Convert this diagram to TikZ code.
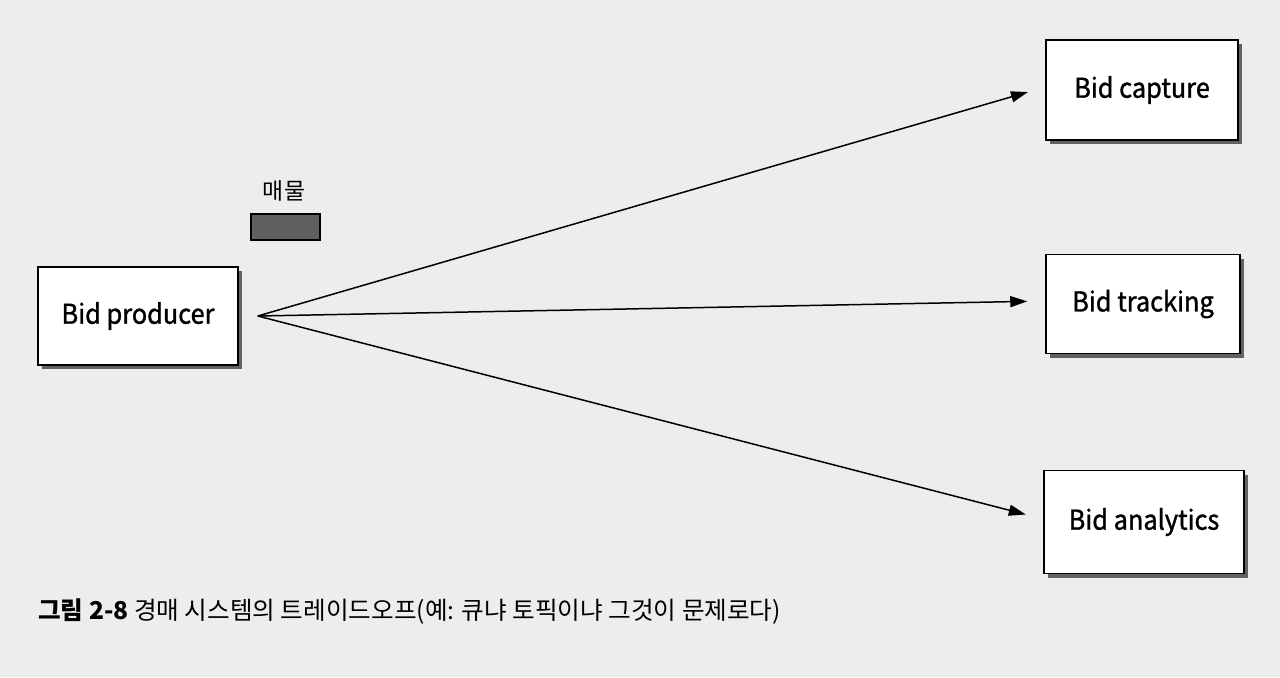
\documentclass[tikz,border=0pt]{standalone}
\usepackage{fontspec}
\setmainfont{Noto Sans CJK KR}
\newfontfamily\boxfont{Noto Sans CJK KR}[FakeBold=1.2, FakeStretch=0.93]
\usetikzlibrary{arrows.meta,shadows}
\definecolor{pagebg}{HTML}{ECEEED}
\definecolor{itemfill}{HTML}{5E6061}
\begin{document}
\begin{tikzpicture}[x=0.02cm,y=-0.02cm,
  svc/.style={draw=black, line width=0.9pt, fill=white, minimum width=4cm, minimum height=1.96cm,
    font=\boxfont\fontsize{15.5}{18}\selectfont, inner sep=0pt,
    drop shadow={shadow xshift=2.5pt, shadow yshift=-2.5pt, fill=black!75, opacity=0.8}},
  flow/.style={line width=0.85pt, -{Triangle[length=0.34cm,width=0.22cm]}, shorten >=0.36cm}]
\fill[pagebg] (0,0) rectangle (1280,677);
\useasboundingbox (0,0) rectangle (1280,677);
\node[svc] (prod) at (138,316) {Bid producer};
\node[svc, minimum width=3.84cm, minimum height=2cm] (cap) at (1142,90) {Bid capture};
\node[svc, minimum width=3.88cm, minimum height=1.98cm] (trk) at (1143,304) {Bid tracking};
\node[svc, minimum width=4cm, minimum height=2.06cm] (ana) at (1144,522) {Bid analytics};
\node[draw=black, line width=0.8pt, fill=itemfill, minimum width=1.38cm, minimum height=0.52cm, inner sep=0pt] (item) at (285.5,227) {};
\node[font=\fontsize{13}{15}\selectfont, inner sep=0pt] (itemlbl) at (284,191) {매물};
\coordinate (src) at ([xshift=0.38cm]prod.east);
\draw[flow] (src) -- ([yshift=0.06cm]cap.west);
\draw[flow] (src) -- ([yshift=0.06cm]trk.west);
\draw[flow] (src) -- ([yshift=0.06cm]ana.west);
\node[anchor=west, inner sep=0pt, font=\fontsize{14}{16}\selectfont] (cap2) at (38,612) {\textbf{그림 2-8} 경매 시스템의 트레이드오프(예: 큐냐 토픽이냐 그것이 문제로다)};
\end{tikzpicture}
\end{document}
